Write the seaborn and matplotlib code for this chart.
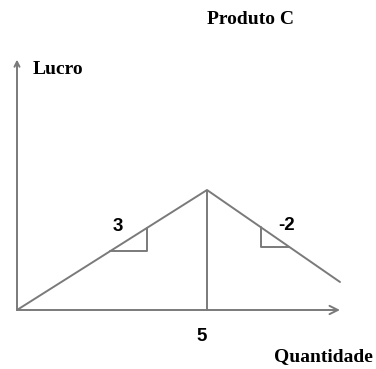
import numpy as np
import matplotlib
matplotlib.use("Agg")
import matplotlib.pyplot as plt
import seaborn as sns
import pandas as pd

# Data
quantidade = [0, 5, 8.5]
lucro = [0, 15, 3.5]
peak_label = "5"
slopes = ["3", "-2"]
title = "Produto C"
xlabel = "Quantidade"
ylabel = "Lucro"

sns.set_theme(style="white")
plt.rcParams['font.family'] = ['DejaVu Sans']

fig = plt.figure(figsize=(3.76, 3.69), dpi=100)
ax = fig.add_axes([0, 0, 1, 1])
ax.set_xlim(-17 / 38, (376 - 17) / 38)
ax.set_ylim(-(369 - 310) / 8, 310 / 8)
ax.axis("off")

gray = "#7a7a7a"
df = pd.DataFrame({"q": quantidade, "l": lucro})
sns.lineplot(data=df, x="q", y="l", sort=False, color=gray, lw=1.4, ax=ax)

# vertical line at peak
ax.vlines(quantidade[1], 0, lucro[1], color=gray, lw=1.4)

# axes arrows
ax.annotate("", xy=(quantidade[-1], 0), xytext=(0, 0),
            arrowprops=dict(arrowstyle="->,head_length=0.5,head_width=0.25", color=gray, lw=1.4,
                            shrinkA=0, shrinkB=0))
ax.annotate("", xy=(0, 31.3), xytext=(0, 0),
            arrowprops=dict(arrowstyle="->,head_length=0.3,head_width=0.15", color=gray, lw=1.4,
                            shrinkA=0, shrinkB=0))

# slope triangles
qa, qb = 2.45, 3.42
ya, yb = np.interp([qa, qb], quantidade, lucro)
ax.plot([qa, qb, qb], [ya, ya, yb], color=gray, lw=1.4)
qc, qd = 6.42, 7.16
yc, yd = np.interp([qc, qd], quantidade, lucro)
ax.plot([qc, qc, qd], [yc, yd, yd], color=gray, lw=1.4)

sans = dict(family=["Liberation Sans", "DejaVu Sans"], fontweight="bold", fontsize=13.5, color="black")
serif = dict(family=["Liberation Serif", "DejaVu Serif"], fontweight="bold", fontsize=14, color="black")

ax.text((117.5 - 17) / 38, (310 - 226.5) / 8, slopes[0], ha="center", va="center", **sans)
ax.text((287 - 17) / 38, (310 - 225) / 8, slopes[1], ha="center", va="center", **sans)
ax.text((201.5 - 17) / 38, (310 - 336.5) / 8, peak_label, ha="center", va="center", **sans)

ax.text((33 - 17) / 38, (310 - 70) / 8, ylabel, ha="left", va="center", **serif)
ax.text((373 - 17) / 38, (310 - 357) / 8, xlabel, ha="right", va="center", **serif)
ax.text((250.5 - 17) / 38, (310 - 20) / 8, title, ha="center", va="center", **serif)

fig.savefig("out.png", dpi=100)
